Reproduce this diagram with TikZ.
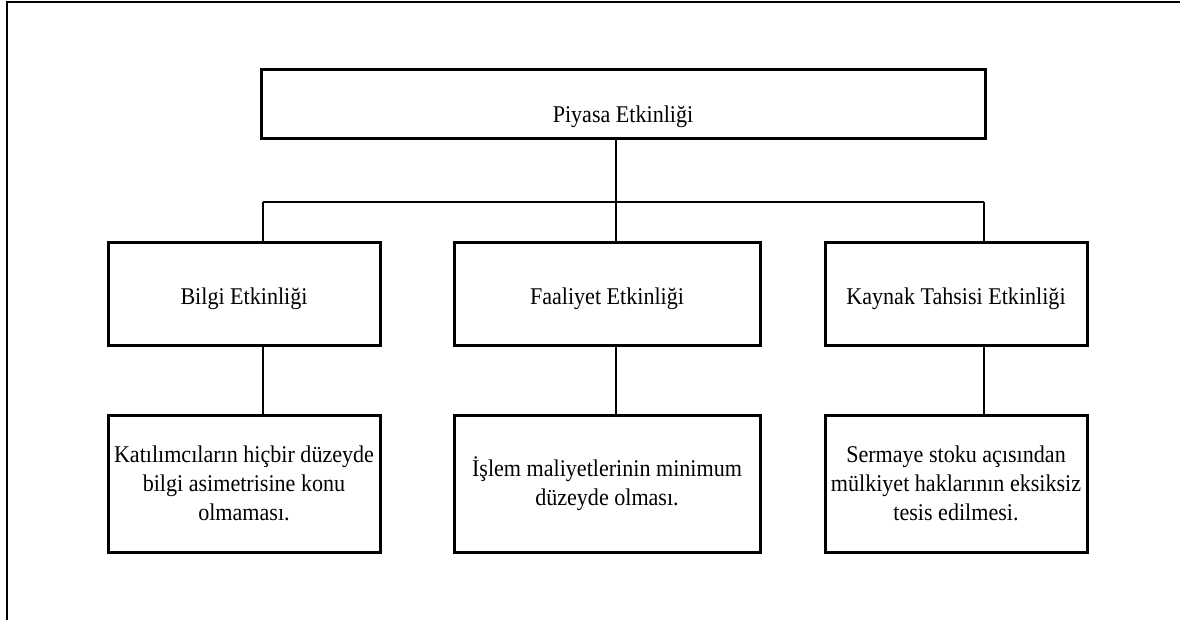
\documentclass[tikz,border=0pt]{standalone}
\usepackage{fontspec}
\setmainfont{Liberation Serif}[FakeStretch=0.92]
\usetikzlibrary{calc}

\begin{document}
\begin{tikzpicture}[x=1pt, y=-1pt,
  box/.style={draw, line width=3pt, inner sep=0pt, align=center,
    font=\fontsize{24}{29}\selectfont},
  head/.style={box, text height=25pt, text depth=3pt},
  link/.style={line width=2pt}]
  \useasboundingbox (0,0) rectangle (1180,620);
  % frame
  \draw[line width=2pt] (1180,2) -- (7,2) -- (7,620);
  % top
  \node[head, minimum width=724pt, minimum height=69pt,
    text height=40pt] (piyasa) at (623,104.5) {Piyasa Etkinliği};
  % second row
  \node[head, minimum width=272pt, minimum height=102pt] (bilgi) at (244,294) {Bilgi Etkinliği};
  \node[head, minimum width=306pt, minimum height=102pt] (faal) at (607,294) {Faaliyet Etkinliği};
  \node[head, minimum width=262pt, minimum height=102pt] (kaynak) at (956,294) {Kaynak Tahsisi Etkinliği};
  % third row
  \node[box, minimum width=272pt, minimum height=137pt] (bilgiA) at (244,483.5)
    {Katılımcıların hiçbir düzeyde\\bilgi asimetrisine konu\\olmaması.};
  \node[box, minimum width=306pt, minimum height=137pt] (faalA) at (607,483.5)
    {İşlem maliyetlerinin minimum\\düzeyde olması.};
  \node[box, minimum width=262pt, minimum height=137pt] (kaynakA) at (956,483.5)
    {Sermaye stoku açısından\\mülkiyet haklarının eksiksiz\\tesis edilmesi.};
  % connectors
  \coordinate (hub) at (616,202);
  \coordinate (jB) at (263,202);
  \coordinate (jK) at (984,202);
  \draw[link] (jB) -- (jK);
  \draw[link] (hub |- piyasa.south) -- (hub);
  \draw[link] (jB) -- (jB |- bilgi.north);
  \draw[link] (hub) -- (hub |- faal.north);
  \draw[link] (jK) -- (jK |- kaynak.north);
  \draw[link] (jB |- bilgi.south) -- (jB |- bilgiA.north);
  \draw[link] (hub |- faal.south) -- (hub |- faalA.north);
  \draw[link] (jK |- kaynak.south) -- (jK |- kaynakA.north);
\end{tikzpicture}
\end{document}
